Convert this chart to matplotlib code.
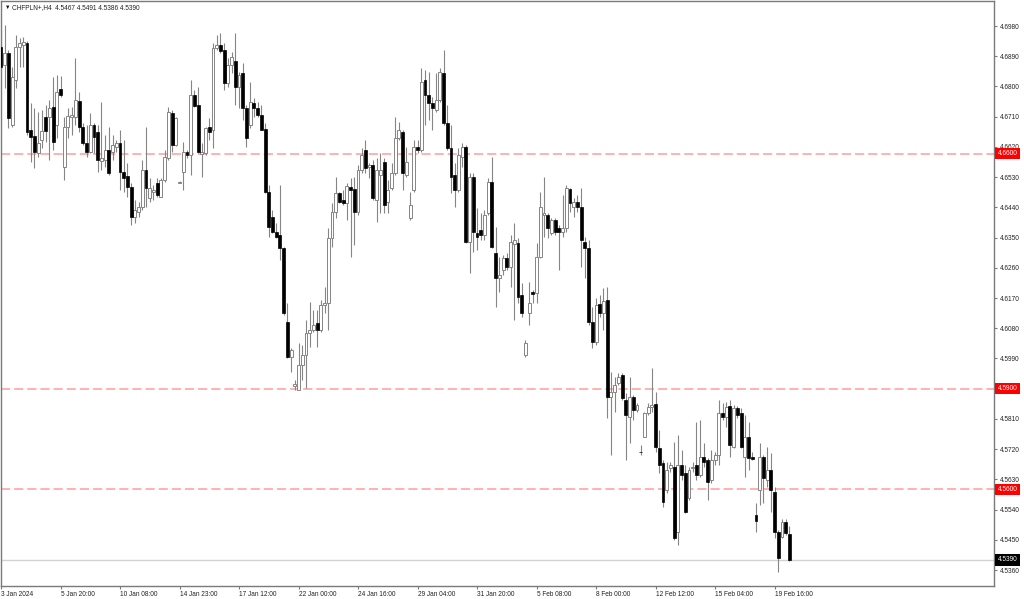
"""
CHFPLN H4 candlestick chart (MT4 style)
"""

import matplotlib
matplotlib.use('Agg')
import matplotlib.pyplot as plt
import numpy as np

plt.rcParams['font.family'] = ['Liberation Sans', 'DejaVu Sans']

# OHLC, one value per H4 bar
opens = [
    4.6917, 4.6864, 4.6900, 4.6685, 4.6819, 4.6917, 4.6923, 4.6929, 4.6670, 4.6652,
    4.6602, 4.6641, 4.6709, 4.6709, 4.6739, 4.6685, 4.6792, 4.6560, 4.6679, 4.6709,
    4.6709, 4.6757, 4.6679, 4.6632, 4.6605, 4.6685, 4.6664, 4.6578, 4.6581, 4.6611,
    4.6605, 4.6620, 4.6632, 4.6545, 4.6533, 4.6501, 4.6411, 4.6426, 4.6441, 4.6551,
    4.6468, 4.6486, 4.6512, 4.6471, 4.6521, 4.6587, 4.6721, 4.6626, 4.6514, 4.6545,
    4.6605, 4.6596, 4.6775, 4.6745, 4.6599, 4.6602, 4.6679, 4.6670, 4.6914, 4.6923,
    4.6909, 4.6810, 4.6864, 4.6876, 4.6798, 4.6840, 4.6736, 4.6685, 4.6751, 4.6736,
    4.6715, 4.6673, 4.6486, 4.6411, 4.6367, 4.6358, 4.6319, 4.6099, 4.5994, 4.5908,
    4.5896, 4.5970, 4.6000, 4.6066, 4.6075, 4.6096, 4.6075, 4.6149, 4.6155, 4.6349,
    4.6426, 4.6483, 4.6462, 4.6453, 4.6501, 4.6495, 4.6426, 4.6551, 4.6611, 4.6560,
    4.6566, 4.6462, 4.6536, 4.6575, 4.6456, 4.6498, 4.6542, 4.6646, 4.6664, 4.6536,
    4.6408, 4.6492, 4.6620, 4.6611, 4.6819, 4.6775, 4.6751, 4.6730, 4.6760, 4.6840,
    4.6691, 4.6617, 4.6536, 4.6492, 4.6590, 4.6620, 4.6337, 4.6530, 4.6364, 4.6372,
    4.6358, 4.6423, 4.6515, 4.6304, 4.6230, 4.6253, 4.6289, 4.6262, 4.6331, 4.6334,
    4.6179, 4.6000, 4.6125, 4.6188, 4.6185, 4.6292, 4.6417, 4.6417, 4.6364, 4.6402,
    4.6378, 4.6367, 4.6378, 4.6495, 4.6441, 4.6456, 4.6441, 4.6337, 4.6319, 4.6099,
    4.6039, 4.6152, 4.6125, 4.6164, 4.5875, 4.5890, 4.5917, 4.5941, 4.5866, 4.5816,
    4.5875, 4.5836, 4.5712, 4.5756, 4.5828, 4.5845, 4.5854, 4.5723, 4.5678, 4.5598,
    4.5664, 4.5667, 4.5473, 4.5673, 4.5649, 4.5574, 4.5664, 4.5673, 4.5643, 4.5696,
    4.5687, 4.5628, 4.5687, 4.5702, 4.5828, 4.5816, 4.5848, 4.5726, 4.5842, 4.5828,
    4.5696, 4.5756, 4.5696, 4.5524, 4.5598, 4.5696, 4.5628, 4.5658, 4.5592, 4.5473,
    4.5458, 4.5503, 4.5467,
]
highs = [
    4.6968, 4.6983, 4.6909, 4.6858, 4.6953, 4.6944, 4.6947, 4.6935, 4.6751, 4.6736,
    4.6724, 4.6730, 4.6745, 4.6760, 4.6828, 4.6834, 4.6831, 4.6709, 4.6736, 4.6739,
    4.6885, 4.6783, 4.6691, 4.6685, 4.6721, 4.6691, 4.6685, 4.6754, 4.6655, 4.6679,
    4.6655, 4.6641, 4.6670, 4.6641, 4.6572, 4.6512, 4.6462, 4.6456, 4.6581, 4.6679,
    4.6527, 4.6506, 4.6527, 4.6527, 4.6611, 4.6739, 4.6730, 4.6709, 4.6518, 4.6635,
    4.6611, 4.6819, 4.6789, 4.6798, 4.6632, 4.6679, 4.6706, 4.6929, 4.6953, 4.6959,
    4.6929, 4.6885, 4.6903, 4.6959, 4.6843, 4.6870, 4.6745, 4.6813, 4.6766, 4.6754,
    4.6745, 4.6691, 4.6506, 4.6432, 4.6393, 4.6506, 4.6322, 4.6155, 4.6021, 4.5926,
    4.6036, 4.6030, 4.6104, 4.6158, 4.6134, 4.6134, 4.6164, 4.6203, 4.6378, 4.6453,
    4.6530, 4.6486, 4.6492, 4.6512, 4.6527, 4.6530, 4.6566, 4.6617, 4.6641, 4.6572,
    4.6581, 4.6587, 4.6602, 4.6587, 4.6521, 4.6572, 4.6709, 4.6694, 4.6670, 4.6620,
    4.6486, 4.6641, 4.6641, 4.6855, 4.6849, 4.6843, 4.6769, 4.6840, 4.6855, 4.6909,
    4.6745, 4.6685, 4.6572, 4.6617, 4.6632, 4.6626, 4.6542, 4.6542, 4.6438, 4.6423,
    4.6432, 4.6527, 4.6590, 4.6381, 4.6292, 4.6298, 4.6304, 4.6358, 4.6393, 4.6349,
    4.6215, 4.6045, 4.6218, 4.6194, 4.6334, 4.6486, 4.6530, 4.6423, 4.6408, 4.6408,
    4.6387, 4.6477, 4.6506, 4.6498, 4.6468, 4.6477, 4.6498, 4.6352, 4.6343, 4.6143,
    4.6170, 4.6179, 4.6200, 4.6203, 4.5950, 4.5935, 4.5947, 4.5947, 4.5887, 4.5935,
    4.5881, 4.5857, 4.5732, 4.5830, 4.5857, 4.5962, 4.5890, 4.5777, 4.5687, 4.5681,
    4.5681, 4.5741, 4.5762, 4.5717, 4.5673, 4.5667, 4.5681, 4.5801, 4.5807, 4.5738,
    4.5693, 4.5717, 4.5711, 4.5866, 4.5857, 4.5860, 4.5866, 4.5851, 4.5848, 4.5842,
    4.5822, 4.5801, 4.5711, 4.5560, 4.5738, 4.5702, 4.5726, 4.5708, 4.5607, 4.5479,
    4.5512, 4.5512, 4.5491,
]
lows = [
    4.6849, 4.6795, 4.6676, 4.6679, 4.6795, 4.6858, 4.6858, 4.6655, 4.6575, 4.6557,
    4.6590, 4.6617, 4.6635, 4.6581, 4.6611, 4.6646, 4.6769, 4.6521, 4.6646, 4.6655,
    4.6685, 4.6664, 4.6626, 4.6590, 4.6602, 4.6602, 4.6545, 4.6551, 4.6560, 4.6536,
    4.6581, 4.6605, 4.6492, 4.6486, 4.6471, 4.6387, 4.6393, 4.6411, 4.6432, 4.6441,
    4.6456, 4.6462, 4.6471, 4.6471, 4.6515, 4.6581, 4.6605, 4.6623, 4.6512, 4.6492,
    4.6587, 4.6536, 4.6739, 4.6602, 4.6530, 4.6596, 4.6641, 4.6617, 4.6909, 4.6900,
    4.6789, 4.6798, 4.6840, 4.6745, 4.6736, 4.6700, 4.6620, 4.6676, 4.6709, 4.6709,
    4.6670, 4.6483, 4.6352, 4.6364, 4.6349, 4.6283, 4.6119, 4.5991, 4.5950, 4.5896,
    4.5899, 4.5926, 4.5902, 4.6024, 4.6069, 4.6024, 4.6069, 4.6125, 4.6075, 4.6322,
    4.6408, 4.6453, 4.6447, 4.6402, 4.6292, 4.6328, 4.6417, 4.6542, 4.6542, 4.6527,
    4.6462, 4.6396, 4.6423, 4.6423, 4.6423, 4.6492, 4.6536, 4.6641, 4.6492, 4.6530,
    4.6402, 4.6486, 4.6602, 4.6605, 4.6685, 4.6700, 4.6670, 4.6724, 4.6754, 4.6685,
    4.6611, 4.6483, 4.6441, 4.6486, 4.6560, 4.6334, 4.6244, 4.6307, 4.6313, 4.6343,
    4.6343, 4.6417, 4.6319, 4.6143, 4.6188, 4.6238, 4.6253, 4.6203, 4.6104, 4.6155,
    4.6113, 4.5994, 4.6090, 4.6155, 4.6155, 4.6289, 4.6352, 4.6349, 4.6358, 4.6358,
    4.6253, 4.6352, 4.6367, 4.6426, 4.6411, 4.6426, 4.6262, 4.6230, 4.6090, 4.6021,
    4.6030, 4.6113, 4.6075, 4.5813, 4.5702, 4.5830, 4.5911, 4.5866, 4.5687, 4.5738,
    4.5807, 4.5830, 4.5702, 4.5756, 4.5822, 4.5830, 4.5711, 4.5649, 4.5548, 4.5589,
    4.5652, 4.5449, 4.5434, 4.5628, 4.5530, 4.5568, 4.5652, 4.5628, 4.5637, 4.5667,
    4.5568, 4.5619, 4.5673, 4.5673, 4.5807, 4.5786, 4.5696, 4.5723, 4.5813, 4.5723,
    4.5637, 4.5658, 4.5687, 4.5473, 4.5554, 4.5560, 4.5607, 4.5533, 4.5455, 4.5354,
    4.5455, 4.5464, 4.5386,
]
closes = [
    4.6858, 4.6900, 4.6706, 4.6828, 4.6917, 4.6929, 4.6932, 4.6664, 4.6649, 4.6605,
    4.6632, 4.6667, 4.6667, 4.6736, 4.6635, 4.6783, 4.6775, 4.6679, 4.6712, 4.6715,
    4.6760, 4.6679, 4.6632, 4.6605, 4.6685, 4.6649, 4.6581, 4.6587, 4.6611, 4.6542,
    4.6626, 4.6632, 4.6545, 4.6527, 4.6501, 4.6411, 4.6432, 4.6441, 4.6551, 4.6498,
    4.6498, 4.6492, 4.6477, 4.6521, 4.6590, 4.6724, 4.6626, 4.6706, 4.6515, 4.6605,
    4.6596, 4.6775, 4.6742, 4.6605, 4.6605, 4.6676, 4.6664, 4.6914, 4.6923, 4.6906,
    4.6810, 4.6864, 4.6888, 4.6798, 4.6834, 4.6736, 4.6646, 4.6754, 4.6736, 4.6715,
    4.6670, 4.6486, 4.6381, 4.6367, 4.6352, 4.6319, 4.6125, 4.5994, 4.6015, 4.5914,
    4.5970, 4.6000, 4.6066, 4.6075, 4.6090, 4.6075, 4.6149, 4.6155, 4.6349, 4.6426,
    4.6483, 4.6456, 4.6453, 4.6504, 4.6492, 4.6426, 4.6551, 4.6596, 4.6557, 4.6566,
    4.6468, 4.6551, 4.6551, 4.6447, 4.6492, 4.6542, 4.6646, 4.6670, 4.6542, 4.6575,
    4.6447, 4.6620, 4.6611, 4.6813, 4.6775, 4.6751, 4.6736, 4.6760, 4.6843, 4.6691,
    4.6617, 4.6530, 4.6492, 4.6596, 4.6620, 4.6337, 4.6530, 4.6367, 4.6352, 4.6358,
    4.6417, 4.6515, 4.6322, 4.6230, 4.6238, 4.6289, 4.6262, 4.6337, 4.6343, 4.6173,
    4.6125, 4.6036, 4.6155, 4.6182, 4.6292, 4.6441, 4.6423, 4.6378, 4.6402, 4.6367,
    4.6367, 4.6378, 4.6498, 4.6453, 4.6456, 4.6441, 4.6343, 4.6319, 4.6099, 4.6039,
    4.6149, 4.6125, 4.6161, 4.5875, 4.5890, 4.5911, 4.5935, 4.5872, 4.5822, 4.5875,
    4.5836, 4.5851, 4.5711, 4.5828, 4.5845, 4.5851, 4.5726, 4.5673, 4.5562, 4.5658,
    4.5673, 4.5455, 4.5673, 4.5643, 4.5533, 4.5658, 4.5667, 4.5643, 4.5696, 4.5681,
    4.5622, 4.5687, 4.5702, 4.5828, 4.5816, 4.5845, 4.5732, 4.5842, 4.5822, 4.5726,
    4.5756, 4.5693, 4.5690, 4.5506, 4.5696, 4.5634, 4.5658, 4.5598, 4.5473, 4.5396,
    4.5503, 4.5470, 4.5390,
]

# x axis labels, one every 16 bars
date_labels = ['3 Jan 2024', '5 Jan 20:00', '10 Jan 08:00', '14 Jan 23:00',
               '17 Jan 12:00', '22 Jan 00:00', '24 Jan 16:00', '29 Jan 04:00',
               '31 Jan 20:00', '5 Feb 08:00', '8 Feb 00:00', '12 Feb 12:00',
               '15 Feb 04:00', '19 Feb 16:00']
label_step = 16

# y axis grid of price ticks
price_ticks = [4.6980, 4.6890, 4.6800, 4.6710, 4.6620, 4.6530, 4.6440, 4.6350,
               4.6260, 4.6170, 4.6080, 4.5990, 4.5900, 4.5810, 4.5720, 4.5630,
               4.5540, 4.5450, 4.5360]

levels = [4.6600, 4.5900, 4.5600]
last_price = 4.5390
header = 'CHFPLN+,H4  4.5467 4.5491 4.5386 4.5390'

# Plot
o = np.array(opens)
h = np.array(highs)
l = np.array(lows)
c = np.array(closes)
x = np.arange(len(o))
up = c >= o

fig = plt.figure(figsize=(10.24, 5.99), dpi=100)
ax = fig.add_axes([1 / 1024, 13 / 599, 993 / 1024, 585 / 599])

wick = '#858585'
ax.axhline(last_price, color='#d2d2d2', lw=1.0, zorder=1)
for lv in levels:
    ax.axhline(lv, color='#ff9d9d', lw=1.1, dashes=(6.0, 2.6), zorder=1)

ax.vlines(x, l, h, color=wick, lw=0.8, zorder=2)
body_h = np.maximum(np.abs(c - o), 0.00004)
body_b = np.minimum(o, c)
ax.bar(x[up], body_h[up], bottom=body_b[up], width=0.78,
       color='white', edgecolor=wick, linewidth=0.7, zorder=3)
ax.bar(x[~up], body_h[~up], bottom=body_b[~up], width=0.78,
       color='black', edgecolor='black', linewidth=0.5, zorder=3)

ax.set_xlim(0.05, 267.0)
ax.set_ylim(4.53124, 4.70545)

for sp in ax.spines.values():
    sp.set_color('#7a7a7a')
    sp.set_linewidth(1.0)

# the tick label under a price tag is covered in the terminal, leave it blank
tick_text = ['' if any(abs(p - lv) < 1e-6 for lv in levels) else f'{p:.4f}'
             for p in price_ticks]
ax.yaxis.tick_right()
ax.set_yticks(price_ticks, labels=tick_text)
ax.set_xticks(np.arange(len(date_labels)) * label_step, labels=date_labels)
for lbl in ax.get_xticklabels():
    lbl.set_horizontalalignment('left')
ax.tick_params(axis='y', direction='out', length=2.5, width=0.8, pad=1.5,
               labelsize=4.7, colors='#7a7a7a', labelcolor='#222222')
ax.tick_params(axis='x', direction='out', length=2.5, width=0.8, pad=1.0,
               labelsize=4.7, colors='#7a7a7a', labelcolor='#222222')

# price tags on the right edge
tr = ax.get_yaxis_transform()
for lv in levels:
    ax.text(1.0035, lv, f'{lv:.4f}', transform=tr, fontsize=4.7, color='white',
            ha='left', va='center', clip_on=False,
            bbox=dict(boxstyle='square,pad=0.35', fc='#ff0000', ec='none'))
ax.text(1.0035, last_price, f'{last_price:.4f}', transform=tr, fontsize=4.7,
        color='white', ha='left', va='center', clip_on=False,
        bbox=dict(boxstyle='square,pad=0.35', fc='#000000', ec='none'))

ax.text(0.004, 0.9895, '▼', transform=ax.transAxes, fontsize=4.0,
        ha='left', va='center', color='#111111')
ax.text(0.011, 0.9895, header, transform=ax.transAxes, fontsize=4.7,
        ha='left', va='center', color='#222222')

fig.savefig('out.png', dpi=100, facecolor='white')
